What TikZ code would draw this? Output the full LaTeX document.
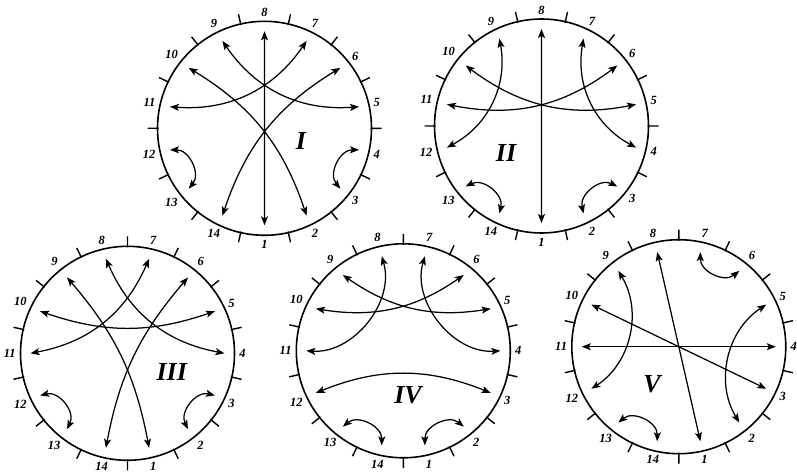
\documentclass[tikz,border=0pt]{standalone}
\usepackage{fontspec}
\newfontfamily\numfont{Liberation Serif}
\usetikzlibrary{arrows.meta,calc}
\tikzset{
 rim/.style={line width=1.6pt},
 tickmark/.style={line width=1.4pt},
 num/.style={font=\numfont\fontsize{12.5}{12.5}\selectfont\bfseries\itshape, inner sep=0.6pt},
 roman/.style={font=\numfont\fontsize{26}{26}\selectfont\bfseries\itshape, inner sep=0pt},
 arr/.style={line width=1.25pt, {Stealth[length=9pt,width=7pt,inset=2pt]}-{Stealth[length=9pt,width=7pt,inset=2pt]}},
 short/.style={arr, bend left=65, looseness=1.15},
}
\newcommand{\dial}[4]{%
 \coordinate (#1) at (#2,#3);
 \draw[rim] (#1) circle (107);
 \foreach \k in {0,...,13}{
   \pgfmathsetmacro\ta{#4+12.857+\k*25.714}
   \draw[tickmark] ($(#1)+(\ta:106)$) -- ($(#1)+(\ta:117)$);
 }
 \foreach \n in {1,...,14}{
   \pgfmathsetmacro\la{#4+(\n-8)*25.714}
   \pgfmathtruncatemacro\an{mod(\la+540,360)}
   \node[num,anchor=\an] (#1-l\n) at ($(#1)+(\la:111)$) {\n};
   \coordinate (#1-\n) at ($(#1)+(\la:97)$);
 }
}
\begin{document}
\begin{tikzpicture}[x=1pt,y=1pt]
\useasboundingbox (0,0) rectangle (797,475);
% circle I
\dial{A}{264.5}{346.7}{90}
\node[roman] (rA) at (301,334) {I};
\draw[arr] (A-8) -- (A-1);
\draw[arr] (A-5) to[bend left=30] (A-9);
\draw[arr] (A-7) to[bend left=30] (A-11);
\draw[arr] (A-10) to[bend left=20] (A-2);
\draw[arr] (A-14) to[bend left=20] (A-6);
\draw[short] (A-12) to (A-13);
\draw[short] (A-3) to (A-4);
% circle II
\dial{B}{541.5}{349}{90}
\node[roman] (rB) at (506,322) {II};
\draw[arr] (B-8) -- (B-1);
\draw[arr] (B-5) to[bend left=24] (B-10);
\draw[arr] (B-6) to[bend left=24] (B-11);
\draw[arr] (B-9) to[bend left=36] (B-12);
\draw[arr] (B-4) to[bend left=36] (B-7);
\draw[short] (B-13) to (B-14);
\draw[short] (B-2) to (B-3);
% circle III
\dial{C}{127.5}{121.7}{102.857}
\node[roman] (rC) at (171.7,103.3) {III};
\draw[arr] (C-5) to[bend left=19] (C-10);
\draw[arr] (C-7) to[bend left=28] (C-11);
\draw[arr] (C-4) to[bend left=28] (C-8);
\draw[arr] (C-9) to[bend left=15] (C-1);
\draw[arr] (C-14) to[bend left=15] (C-6);
\draw[short] (C-12) to (C-13);
\draw[short] (C-2) to (C-3);
% circle IV
\dial{D}{403.3}{124.2}{102.857}
\node[roman] (rD) at (408,80) {IV};
\draw[arr] (D-5) to[bend left=22] (D-9);
\draw[arr] (D-6) to[bend left=22] (D-10);
\draw[arr] (D-8) to[bend left=55] (D-11);
\draw[arr] (D-4) to[bend left=55] (D-7);
\draw[arr] (D-12) to[bend left=22] (D-3);
\draw[short] (D-13) to (D-14);
\draw[short] (D-1) to (D-2);
% circle V
\dial{E}{678.8}{128.3}{102.857}
\node[roman] (rE) at (652,91) {V};
\draw[arr] (E-11) -- (E-4);
\draw[arr] (E-10) -- (E-3);
\draw[arr] (E-8) -- (E-1);
\draw[arr] (E-9) to[bend left=44] (E-12);
\draw[arr] (E-2) to[bend left=44] (E-5);
\draw[short] (E-6) to (E-7);
\draw[short] (E-13) to (E-14);
\end{tikzpicture}
\end{document}
